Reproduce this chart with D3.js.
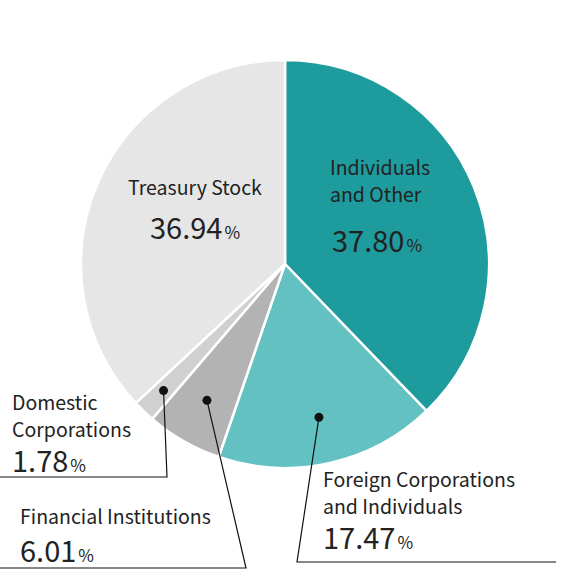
<!DOCTYPE html><html><head><meta charset="utf-8"><script src="https://cdn.jsdelivr.net/npm/d3@7"></script>
<style>body{margin:0;background:#fff}text{font-family:"Noto Sans CJK JP","Noto Sans",sans-serif;fill:#222}</style></head><body>
<svg id="c" width="572" height="578"></svg>
<script>
const categories=["Individuals and Other","Foreign Corporations and Individuals","Financial Institutions","Domestic Corporations","Treasury Stock"];
const values=[37.80,17.47,6.01,1.78,36.94];
const colors=["#1e9b9d","#63c1c2","#b3b3b3","#d0d0d0","#e6e6e6"];
const svg=d3.select("#c");
const cx=285,cy=264,r=204;
const pie=d3.pie().sort(null).value(d=>d)(values);
const arc=d3.arc().innerRadius(0).outerRadius(r);
const g=svg.append("g").attr("transform",`translate(${cx},${cy})`);
g.selectAll("path").data(pie).join("path").attr("d",arc).attr("fill",(d,i)=>colors[i]).attr("stroke","#fff").attr("stroke-width",2.5);
function dotPos(i,f){const a=(pie[i].startAngle+pie[i].endAngle)/2;return [cx+Math.sin(a)*r*f,cy-Math.cos(a)*r*f];}
function leader(i,f,x2,y2,hx){const [x,y]=dotPos(i,f);
 svg.append("circle").attr("cx",x).attr("cy",y).attr("r",4.5).attr("fill","#111");
 svg.append("path").attr("d",`M${x},${y}L${x2},${y2}L${hx},${y2}`).attr("fill","none").attr("stroke","#111").attr("stroke-width",1.2);}
leader(1,0.77,297,562,556);
leader(2,0.77,246,568,0);
leader(3,0.86,167,477,0);
function pct(x,y,v,big,small,anchor){const t=svg.append("text").attr("x",x).attr("y",y).attr("text-anchor",anchor||"start");
 t.append("tspan").attr("font-size",big).text(v.toFixed(2));t.append("tspan").attr("font-size",small).attr("dx",2).text("%");}
function lab(x,y,lines,anchor){lines.forEach((l,k)=>svg.append("text").attr("x",x).attr("y",y+k*27).attr("font-size",19.5).attr("text-anchor",anchor||"start").text(l));}
lab(330,175,["Individuals","and Other"]);pct(332,252,values[0],29,17);
lab(195,195,["Treasury Stock"],"middle");pct(195,239,values[4],29,17,"middle");
lab(12,410,["Domestic","Corporations"]);pct(12,472,values[3],29,17);
lab(20,524,["Financial Institutions"]);pct(20,562,values[2],29,17);
lab(323,487,["Foreign Corporations","and Individuals"]);pct(323,549,values[1],29,17);
</script></body></html>
